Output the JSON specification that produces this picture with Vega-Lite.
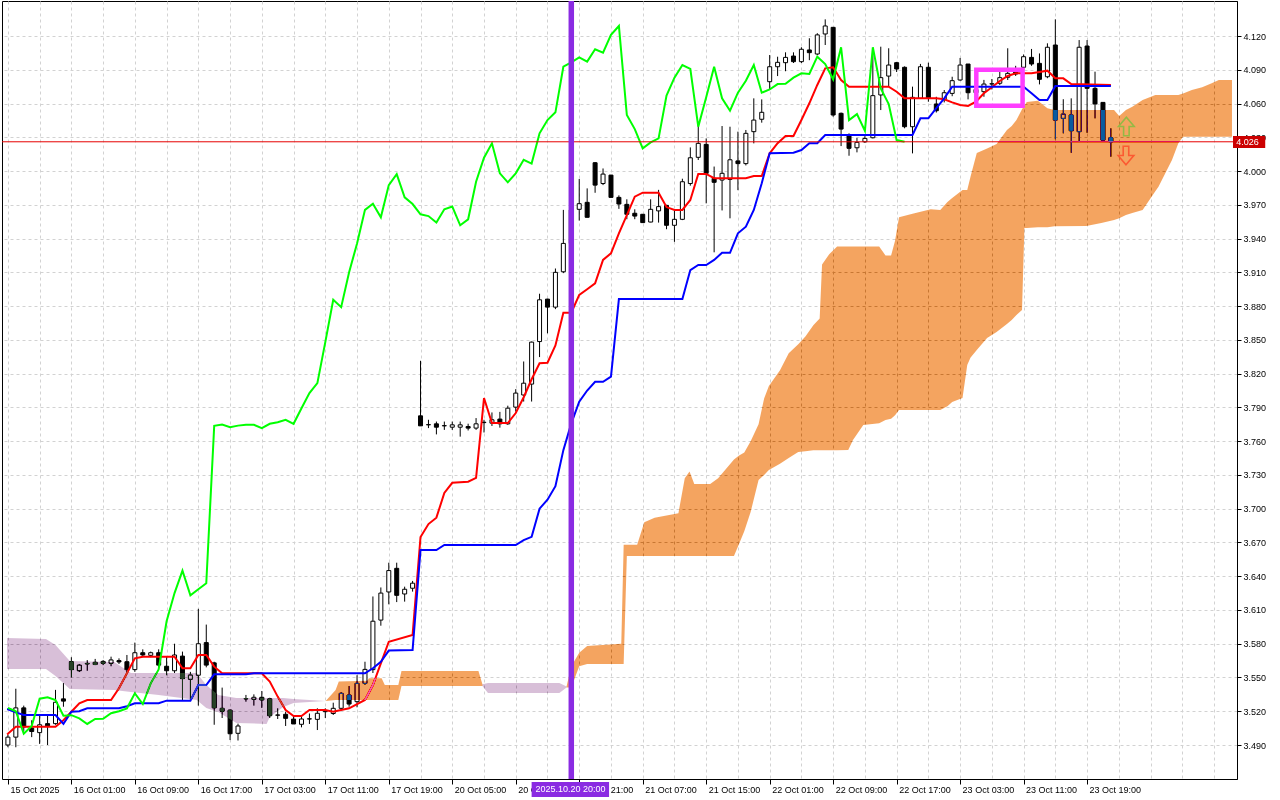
{
"$schema":"https://vega.github.io/schema/vega-lite/v6.json",
"width":1235,"height":778,
"autosize":{"type":"none"},
"padding":{"left":2,"top":1,"right":43,"bottom":21},
"background":"white",
"config":{"view":{"stroke":"black","strokeWidth":1},"axis":{"labelFont":"Liberation Sans","labelFontSize":9,"labelColor":"black","tickColor":"black","domainColor":"black","labelOverlap":false}},
"datasets":{
"candles":[
{"i":0,"o":3.490,"h":3.499,"l":3.488,"c":3.497},{"i":1,"o":3.497,"h":3.540,"l":3.488,"c":3.523},{"i":2,"o":3.523,"h":3.525,"l":3.502,"c":3.506},{"i":3,"o":3.505,"h":3.512,"l":3.497,"c":3.502},{"i":4,"o":3.501,"h":3.517,"l":3.491,"c":3.508},{"i":5,"o":3.509,"h":3.517,"l":3.490,"c":3.507},{"i":6,"o":3.509,"h":3.539,"l":3.508,"c":3.528},{"i":7,"o":3.531,"h":3.545,"l":3.524,"c":3.529},{"i":8,"o":3.564,"h":3.568,"l":3.550,"c":3.557},{"i":9,"o":3.556,"h":3.562,"l":3.555,"c":3.561},
{"i":10,"o":3.562,"h":3.5655,"l":3.556,"c":3.5625},{"i":11,"o":3.5635,"h":3.5665,"l":3.561,"c":3.5615},{"i":12,"o":3.5643,"h":3.5655,"l":3.561,"c":3.5626},{"i":13,"o":3.5626,"h":3.5685,"l":3.560,"c":3.5656},{"i":14,"o":3.565,"h":3.567,"l":3.562,"c":3.5638},{"i":15,"o":3.564,"h":3.570,"l":3.554,"c":3.557},{"i":16,"o":3.557,"h":3.581,"l":3.555,"c":3.572},{"i":17,"o":3.572,"h":3.575,"l":3.568,"c":3.570},{"i":18,"o":3.5697,"h":3.573,"l":3.568,"c":3.572},{"i":19,"o":3.572,"h":3.575,"l":3.559,"c":3.561},
{"i":20,"o":3.560,"h":3.5685,"l":3.552,"c":3.556},{"i":21,"o":3.556,"h":3.580,"l":3.554,"c":3.570},{"i":22,"o":3.569,"h":3.573,"l":3.530,"c":3.549},{"i":23,"o":3.5484,"h":3.555,"l":3.530,"c":3.5522},{"i":24,"o":3.552,"h":3.611,"l":3.525,"c":3.580},{"i":25,"o":3.581,"h":3.597,"l":3.559,"c":3.561},{"i":26,"o":3.563,"h":3.564,"l":3.508,"c":3.523},{"i":27,"o":3.5226,"h":3.541,"l":3.514,"c":3.520},{"i":28,"o":3.521,"h":3.5215,"l":3.4944,"c":3.500},{"i":29,"o":3.5004,"h":3.509,"l":3.494,"c":3.5069},
{"i":30,"o":3.531,"h":3.5345,"l":3.5285,"c":3.5312},{"i":31,"o":3.5306,"h":3.535,"l":3.525,"c":3.5324},{"i":32,"o":3.5324,"h":3.538,"l":3.523,"c":3.530},{"i":33,"o":3.531,"h":3.532,"l":3.514,"c":3.516},{"i":34,"o":3.5167,"h":3.5226,"l":3.5131,"c":3.5165},{"i":35,"o":3.5173,"h":3.5196,"l":3.5069,"c":3.5137},{"i":36,"o":3.513,"h":3.5157,"l":3.5087,"c":3.5087},{"i":37,"o":3.5084,"h":3.5152,"l":3.5057,"c":3.5131},{"i":38,"o":3.5131,"h":3.518,"l":3.5087,"c":3.5133},{"i":39,"o":3.5128,"h":3.5226,"l":3.5033,"c":3.5182},
{"i":40,"o":3.5196,"h":3.5226,"l":3.514,"c":3.520},{"i":41,"o":3.518,"h":3.5276,"l":3.5167,"c":3.5226},{"i":42,"o":3.5226,"h":3.537,"l":3.521,"c":3.5359},{"i":43,"o":3.5344,"h":3.5424,"l":3.524,"c":3.5264},{"i":44,"o":3.5285,"h":3.552,"l":3.5235,"c":3.5448},{"i":45,"o":3.5448,"h":3.564,"l":3.5435,"c":3.5572},{"i":46,"o":3.557,"h":3.622,"l":3.554,"c":3.600},{"i":47,"o":3.601,"h":3.630,"l":3.596,"c":3.625},{"i":48,"o":3.626,"h":3.652,"l":3.615,"c":3.645},{"i":49,"o":3.647,"h":3.652,"l":3.617,"c":3.623},
{"i":50,"o":3.6242,"h":3.6307,"l":3.6174,"c":3.6284},{"i":51,"o":3.6293,"h":3.6358,"l":3.6263,"c":3.6338},{"i":52,"o":3.7825,"h":3.8314,"l":3.7736,"c":3.7736},{"i":53,"o":3.7745,"h":3.779,"l":3.7716,"c":3.7747},{"i":54,"o":3.7754,"h":3.7774,"l":3.766,"c":3.7724},{"i":55,"o":3.7736,"h":3.7774,"l":3.770,"c":3.7738},{"i":56,"o":3.7724,"h":3.7774,"l":3.770,"c":3.7745},{"i":57,"o":3.7724,"h":3.7774,"l":3.764,"c":3.7745},{"i":58,"o":3.773,"h":3.7755,"l":3.7695,"c":3.7716},{"i":59,"o":3.7716,"h":3.7805,"l":3.770,"c":3.7754},
{"i":60,"o":3.7765,"h":3.779,"l":3.7677,"c":3.7768},{"i":61,"o":3.776,"h":3.7855,"l":3.7735,"c":3.779},{"i":62,"o":3.7796,"h":3.786,"l":3.772,"c":3.7754},{"i":63,"o":3.7754,"h":3.7915,"l":3.7745,"c":3.7893},{"i":64,"o":3.7902,"h":3.8062,"l":3.7863,"c":3.8027},{"i":65,"o":3.801,"h":3.8308,"l":3.7952,"c":3.8115},{"i":66,"o":3.8107,"h":3.8485,"l":3.7952,"c":3.848},{"i":67,"o":3.8485,"h":3.891,"l":3.8347,"c":3.8856},{"i":68,"o":3.8862,"h":3.8865,"l":3.8558,"c":3.8791},{"i":69,"o":3.8791,"h":3.9134,"l":3.8773,"c":3.910},
{"i":70,"o":3.9105,"h":3.9655,"l":3.9093,"c":3.9357},{"i":71,"o":3.9357,"h":3.975,"l":3.930,"c":3.9655},{"i":72,"o":3.966,"h":3.993,"l":3.956,"c":3.971},{"i":73,"o":3.9722,"h":3.9846,"l":3.9589,"c":3.9589},{"i":74,"o":4.0074,"h":4.008,"l":3.9807,"c":3.9875},{"i":75,"o":3.9889,"h":4.0023,"l":3.9875,"c":3.9973},{"i":76,"o":3.9964,"h":3.9966,"l":3.9766,"c":3.9766},{"i":77,"o":3.9766,"h":3.9784,"l":3.9664,"c":3.9707},{"i":78,"o":3.9704,"h":3.9749,"l":3.9572,"c":3.9616},{"i":79,"o":3.9625,"h":3.966,"l":3.9572,"c":3.960},
{"i":80,"o":3.9616,"h":3.9618,"l":3.954,"c":3.9542},{"i":81,"o":3.9547,"h":3.9749,"l":3.9545,"c":3.966},{"i":82,"o":3.9646,"h":3.9833,"l":3.9542,"c":3.9684},{"i":83,"o":3.9695,"h":3.970,"l":3.9483,"c":3.9518},{"i":84,"o":3.9518,"h":3.9646,"l":3.9371,"c":3.9571},{"i":85,"o":3.9571,"h":3.9932,"l":3.9564,"c":3.9905},{"i":86,"o":3.9889,"h":4.021,"l":3.987,"c":4.0118},{"i":87,"o":4.0122,"h":4.041,"l":4.0098,"c":4.0246},{"i":88,"o":4.0237,"h":4.029,"l":3.9713,"c":3.998},{"i":89,"o":3.9935,"h":4.004,"l":3.9278,"c":3.990},
{"i":90,"o":3.992,"h":4.040,"l":3.965,"c":3.998},{"i":91,"o":3.9926,"h":4.0394,"l":3.958,"c":4.010},{"i":92,"o":4.009,"h":4.035,"l":3.983,"c":4.0066},{"i":93,"o":4.0066,"h":4.0365,"l":4.005,"c":4.0335},{"i":94,"o":4.035,"h":4.0646,"l":4.0246,"c":4.0453},{"i":95,"o":4.046,"h":4.0637,"l":4.043,"c":4.0522},{"i":96,"o":4.0794,"h":4.1031,"l":4.072,"c":4.0927},{"i":97,"o":4.0927,"h":4.1016,"l":4.0844,"c":4.0966},{"i":98,"o":4.0963,"h":4.1055,"l":4.0887,"c":4.101},{"i":99,"o":4.1022,"h":4.1055,"l":4.096,"c":4.0972},
{"i":100,"o":4.0972,"h":4.110,"l":4.096,"c":4.1082},{"i":101,"o":4.1076,"h":4.118,"l":4.0985,"c":4.1052},{"i":102,"o":4.104,"h":4.1225,"l":4.103,"c":4.121},{"i":103,"o":4.1218,"h":4.1348,"l":4.112,"c":4.1289},{"i":104,"o":4.1277,"h":4.128,"l":4.0483,"c":4.0498},{"i":105,"o":4.0513,"h":4.052,"l":4.0222,"c":4.0373},{"i":106,"o":4.032,"h":4.0335,"l":4.0136,"c":4.0202},{"i":107,"o":4.0207,"h":4.0295,"l":4.0166,"c":4.0255},{"i":108,"o":4.026,"h":4.031,"l":4.025,"c":4.029},{"i":109,"o":4.0296,"h":4.1091,"l":4.029,"c":4.067},
{"i":110,"o":4.0676,"h":4.1105,"l":4.0542,"c":4.083},{"i":111,"o":4.0844,"h":4.1091,"l":4.075,"c":4.0942},{"i":112,"o":4.0963,"h":4.097,"l":4.088,"c":4.0907},{"i":113,"o":4.0922,"h":4.093,"l":4.038,"c":4.0394},{"i":114,"o":4.0394,"h":4.075,"l":4.0157,"c":4.0655},{"i":115,"o":4.0646,"h":4.0952,"l":4.064,"c":4.0927},{"i":116,"o":4.0922,"h":4.0963,"l":4.0616,"c":4.0646},{"i":117,"o":4.0596,"h":4.066,"l":4.052,"c":4.0536},{"i":118,"o":4.0637,"h":4.072,"l":4.061,"c":4.0696},{"i":119,"o":4.069,"h":4.0838,"l":4.0665,"c":4.0803},
{"i":120,"o":4.0809,"h":4.1005,"l":4.0803,"c":4.0942},{"i":121,"o":4.0951,"h":4.0951,"l":4.0637,"c":4.0696},{"i":122,"o":4.0696,"h":4.0775,"l":4.066,"c":4.0725},{"i":123,"o":4.0705,"h":4.081,"l":4.066,"c":4.0773},{"i":124,"o":4.0773,"h":4.0818,"l":4.0725,"c":4.0776},{"i":125,"o":4.078,"h":4.0885,"l":4.0765,"c":4.083},{"i":126,"o":4.0833,"h":4.1091,"l":4.0809,"c":4.0868},{"i":127,"o":4.0883,"h":4.0935,"l":4.0845,"c":4.0862},{"i":128,"o":4.0922,"h":4.1036,"l":4.0912,"c":4.1016},{"i":129,"o":4.101,"h":4.1085,"l":4.0935,"c":4.0951},
{"i":130,"o":4.0957,"h":4.1045,"l":4.077,"c":4.0815},{"i":131,"o":4.0838,"h":4.1135,"l":4.0825,"c":4.110},{"i":132,"o":4.112,"h":4.1348,"l":4.0282,"c":4.0453},{"i":133,"o":4.0468,"h":4.0638,"l":4.0335,"c":4.0506},{"i":134,"o":4.0498,"h":4.0646,"l":4.0162,"c":4.0358},{"i":135,"o":4.035,"h":4.1164,"l":4.026,"c":4.110},{"i":136,"o":4.1111,"h":4.1164,"l":4.034,"c":4.0735},{"i":137,"o":4.0735,"h":4.0883,"l":4.0468,"c":4.0596},{"i":138,"o":4.061,"h":4.061,"l":4.0275,"c":4.0275},{"i":139,"o":4.0296,"h":4.038,"l":4.0127,"c":4.026}
],
"tenkan":[
{"i":-0.11,"v":3.4995},{"i":0,"v":3.500},{"i":1,"v":3.5063},{"i":6,"v":3.5063},{"i":7,"v":3.512},{"i":8,"v":3.5196},{"i":9,"v":3.527},{"i":10,"v":3.530},{"i":13,"v":3.530},{"i":14,"v":3.5404},{"i":15,"v":3.5537},{"i":16,"v":3.567},{"i":17,"v":3.5685},{"i":21,"v":3.5685},{"i":22,"v":3.5582},{"i":23,"v":3.5582},{"i":24,"v":3.570},{"i":25,"v":3.570},{"i":26,"v":3.5596},{"i":27,"v":3.5537},{"i":32,"v":3.5537},{"i":33,"v":3.5463},{"i":34,"v":3.533},{"i":35,"v":3.5211},{"i":36,"v":3.5158},{"i":37,"v":3.5158},{"i":38,"v":3.5211},{"i":40,"v":3.5211},{"i":41,"v":3.5196},{"i":43,"v":3.5226},{"i":45,"v":3.530},{"i":46,"v":3.5433},{"i":47,"v":3.5626},{"i":48,"v":3.5818},{"i":51,"v":3.5878},{"i":52,"v":3.6748},{"i":53,"v":3.6863},{"i":54,"v":3.692},{"i":55,"v":3.714},{"i":56,"v":3.723},{"i":58,"v":3.724},{"i":59,"v":3.7273},{"i":60,"v":3.7983},{"i":61,"v":3.7761},{"i":63,"v":3.7761},{"i":64,"v":3.785},{"i":65,"v":3.799},{"i":66,"v":3.815},{"i":67,"v":3.8292},{"i":68,"v":3.8297},{"i":69,"v":3.845},{"i":70,"v":3.8741},{"i":71,"v":3.8741},{"i":72,"v":3.8899},{"i":73,"v":3.895},{"i":74,"v":3.9002},{"i":75,"v":3.921},{"i":76,"v":3.9269},{"i":77,"v":3.9447},{"i":78,"v":3.9609},{"i":79,"v":3.9772},{"i":80,"v":3.9808},{"i":82,"v":3.9808},{"i":83,"v":3.968},{"i":84,"v":3.9654},{"i":85,"v":3.9654},{"i":86,"v":3.9743},{"i":87,"v":3.9974},{"i":88,"v":3.9974},{"i":89,"v":3.9936},{"i":93,"v":3.9936},{"i":94,"v":3.9956},{"i":95,"v":3.9956},{"i":96,"v":4.0158},{"i":97,"v":4.0247},{"i":98,"v":4.0311},{"i":99,"v":4.0311},{"i":100,"v":4.0454},{"i":101,"v":4.0602},{"i":102,"v":4.0765},{"i":103,"v":4.0913},{"i":104,"v":4.0922},{"i":105,"v":4.0809},{"i":106,"v":4.075},{"i":111,"v":4.075},{"i":112,"v":4.0705},{"i":113,"v":4.0646},{"i":117,"v":4.0646},{"i":118,"v":4.0638},{"i":119,"v":4.061},{"i":120,"v":4.0587},{"i":121,"v":4.0578},{"i":122,"v":4.0616},{"i":123,"v":4.0691},{"i":124,"v":4.0744},{"i":125,"v":4.080},{"i":126,"v":4.0845},{"i":127,"v":4.0869},{"i":129,"v":4.0869},{"i":130,"v":4.088},{"i":131,"v":4.0892},{"i":132,"v":4.0824},{"i":133,"v":4.0824},{"i":134,"v":4.0773},{"i":139,"v":4.0765}
],
"kijun":[
{"i":-0.11,"v":3.5217},{"i":0,"v":3.5217},{"i":1,"v":3.519},{"i":2,"v":3.5167},{"i":6,"v":3.5167},{"i":7,"v":3.5087},{"i":8,"v":3.5196},{"i":9,"v":3.520},{"i":10,"v":3.5226},{"i":14,"v":3.5226},{"i":15,"v":3.5245},{"i":16,"v":3.5271},{"i":19,"v":3.5271},{"i":20,"v":3.5294},{"i":23,"v":3.5294},{"i":24,"v":3.5433},{"i":25,"v":3.5433},{"i":26,"v":3.5528},{"i":30,"v":3.5528},{"i":31,"v":3.5537},{"i":45,"v":3.5537},{"i":46,"v":3.5582},{"i":47,"v":3.564},{"i":48,"v":3.5739},{"i":51,"v":3.5744},{"i":52,"v":3.6633},{"i":54,"v":3.6633},{"i":55,"v":3.6677},{"i":64,"v":3.6677},{"i":65,"v":3.672},{"i":66,"v":3.675},{"i":67,"v":3.700},{"i":68,"v":3.708},{"i":69,"v":3.72},{"i":70,"v":3.752},{"i":71,"v":3.7758},{"i":72,"v":3.795},{"i":73,"v":3.805},{"i":74,"v":3.8128},{"i":75,"v":3.8128},{"i":76,"v":3.8173},{"i":77,"v":3.8863},{"i":85,"v":3.8863},{"i":86,"v":3.912},{"i":87,"v":3.9165},{"i":88,"v":3.9165},{"i":89,"v":3.921},{"i":90,"v":3.9274},{"i":91,"v":3.9274},{"i":92,"v":3.9447},{"i":93,"v":3.9506},{"i":94,"v":3.9654},{"i":95,"v":3.9891},{"i":96,"v":4.0158},{"i":99,"v":4.0163},{"i":100,"v":4.0187},{"i":101,"v":4.0247},{"i":102,"v":4.0247},{"i":103,"v":4.032},{"i":114,"v":4.032},{"i":115,"v":4.0469},{"i":116,"v":4.0469},{"i":117,"v":4.056},{"i":118,"v":4.0646},{"i":119,"v":4.075},{"i":128,"v":4.075},{"i":129,"v":4.0691},{"i":130,"v":4.0631},{"i":131,"v":4.0631},{"i":132,"v":4.0756},{"i":139,"v":4.0756}
],
"chikou":[
{"i":0,"v":3.523},{"i":1,"v":3.520},{"i":2,"v":3.500},{"i":3,"v":3.5069},{"i":4,"v":3.5312},{"i":5,"v":3.5324},{"i":6,"v":3.530},{"i":7,"v":3.516},{"i":8,"v":3.5165},{"i":9,"v":3.5137},{"i":10,"v":3.5087},{"i":11,"v":3.5131},{"i":12,"v":3.5133},{"i":13,"v":3.5182},{"i":14,"v":3.520},{"i":15,"v":3.5226},{"i":16,"v":3.5359},{"i":17,"v":3.5264},{"i":18,"v":3.5448},{"i":19,"v":3.5572},{"i":20,"v":3.600},{"i":21,"v":3.625},{"i":22,"v":3.645},{"i":23,"v":3.623},{"i":24,"v":3.6284},{"i":25,"v":3.6338},{"i":26,"v":3.7736},{"i":27,"v":3.7747},{"i":28,"v":3.7724},{"i":29,"v":3.7738},{"i":30,"v":3.7745},{"i":31,"v":3.7745},{"i":32,"v":3.7716},{"i":33,"v":3.7754},{"i":34,"v":3.7768},{"i":35,"v":3.779},{"i":36,"v":3.7754},{"i":37,"v":3.7893},{"i":38,"v":3.8027},{"i":39,"v":3.8115},{"i":40,"v":3.848},{"i":41,"v":3.8856},{"i":42,"v":3.8791},{"i":43,"v":3.910},{"i":44,"v":3.9357},{"i":45,"v":3.9655},{"i":46,"v":3.971},{"i":47,"v":3.9589},{"i":48,"v":3.9875},{"i":49,"v":3.9973},{"i":50,"v":3.9766},{"i":51,"v":3.9707},{"i":52,"v":3.9616},{"i":53,"v":3.960},{"i":54,"v":3.9542},{"i":55,"v":3.966},{"i":56,"v":3.9684},{"i":57,"v":3.9518},{"i":58,"v":3.9571},{"i":59,"v":3.9905},{"i":60,"v":4.0118},{"i":61,"v":4.0246},{"i":62,"v":3.998},{"i":63,"v":3.990},{"i":64,"v":3.998},{"i":65,"v":4.010},{"i":66,"v":4.0066},{"i":67,"v":4.0335},{"i":68,"v":4.0453},{"i":69,"v":4.0522},{"i":70,"v":4.0927},{"i":71,"v":4.0966},{"i":72,"v":4.101},{"i":73,"v":4.0972},{"i":74,"v":4.1082},{"i":75,"v":4.1052},{"i":76,"v":4.121},{"i":77,"v":4.1289},{"i":78,"v":4.0498},{"i":79,"v":4.0373},{"i":80,"v":4.0202},{"i":81,"v":4.0255},{"i":82,"v":4.029},{"i":83,"v":4.067},{"i":84,"v":4.083},{"i":85,"v":4.0942},{"i":86,"v":4.0907},{"i":87,"v":4.0394},{"i":88,"v":4.0655},{"i":89,"v":4.0927},{"i":90,"v":4.0646},{"i":91,"v":4.0536},{"i":92,"v":4.0696},{"i":93,"v":4.0803},{"i":94,"v":4.0942},{"i":95,"v":4.0696},{"i":96,"v":4.0725},{"i":97,"v":4.0773},{"i":98,"v":4.0776},{"i":99,"v":4.083},{"i":100,"v":4.0868},{"i":101,"v":4.0862},{"i":102,"v":4.1016},{"i":103,"v":4.0951},{"i":104,"v":4.0815},{"i":105,"v":4.110},{"i":106,"v":4.0453},{"i":107,"v":4.0506},{"i":108,"v":4.0358},{"i":109,"v":4.110},{"i":110,"v":4.0735},{"i":111,"v":4.0596},{"i":112,"v":4.0275},{"i":113,"v":4.026}
],
"cloud":[
{"seg":"P1","k":"B","i":-0.11,"t":3.5851,"b":3.5575},{"seg":"P1","k":"B","i":4.8,"t":3.5842,"b":3.5575},{"seg":"P1","k":"B","i":6,"t":3.5789,"b":3.5513},{"seg":"P1","k":"B","i":7.8,"t":3.5646,"b":3.5397},{"seg":"P1","k":"B","i":13.4,"t":3.5637,"b":3.5389},{"seg":"P1","k":"B","i":15.5,"t":3.554,"b":3.5371},{"seg":"P1","k":"B","i":19,"t":3.554,"b":3.5345},{"seg":"P1","k":"B","i":23.8,"t":3.554,"b":3.530},{"seg":"P1","k":"B","i":25,"t":3.5433,"b":3.5229},{"seg":"P1","k":"B","i":26.5,"t":3.5345,"b":3.5193},{"seg":"P1","k":"B","i":28.8,"t":3.5318,"b":3.5096},{"seg":"P1","k":"B","i":32.6,"t":3.5318,"b":3.5087},{"seg":"P1","k":"B","i":33,"t":3.5318,"b":3.5149},{"seg":"P1","k":"B","i":34.7,"t":3.5318,"b":3.5238},{"seg":"P1","k":"B","i":36,"t":3.5309,"b":3.5273},{"seg":"P1","k":"B","i":40.05,"t":3.529,"b":3.529},
{"seg":"O1","k":"A","i":40.05,"t":3.529,"b":3.529},{"seg":"O1","k":"A","i":41.3,"t":3.5389,"b":3.530},{"seg":"O1","k":"A","i":41.7,"t":3.5465,"b":3.530},{"seg":"O1","k":"A","i":45.3,"t":3.547,"b":3.530},{"seg":"O1","k":"A","i":45.5,"t":3.5494,"b":3.530},{"seg":"O1","k":"A","i":47.1,"t":3.5494,"b":3.530},{"seg":"O1","k":"A","i":47.5,"t":3.5433,"b":3.530},{"seg":"O1","k":"A","i":49.2,"t":3.5433,"b":3.530},{"seg":"O1","k":"A","i":49.6,"t":3.5558,"b":3.5424},{"seg":"O1","k":"A","i":59.3,"t":3.5558,"b":3.5424},{"seg":"O1","k":"A","i":59.8,"t":3.544,"b":3.5424},
{"seg":"P2","k":"B","i":59.8,"t":3.544,"b":3.5424},{"seg":"P2","k":"B","i":60.5,"t":3.5451,"b":3.5362},{"seg":"P2","k":"B","i":69.5,"t":3.5451,"b":3.5362},{"seg":"P2","k":"B","i":70.4,"t":3.542,"b":3.541},
{"seg":"O2","k":"A","i":70.4,"t":3.542,"b":3.541},{"seg":"O2","k":"A","i":71,"t":3.560,"b":3.541},{"seg":"O2","k":"A","i":72,"t":3.572,"b":3.560},{"seg":"O2","k":"A","i":73,"t":3.578,"b":3.562},{"seg":"O2","k":"A","i":77.3,"t":3.580,"b":3.562},{"seg":"O2","k":"A","i":77.6,"t":3.668,"b":3.562},{"seg":"O2","k":"A","i":78,"t":3.668,"b":3.658},{"seg":"O2","k":"A","i":79.3,"t":3.668,"b":3.658},{"seg":"O2","k":"A","i":80.2,"t":3.688,"b":3.658},{"seg":"O2","k":"A","i":81.5,"t":3.692,"b":3.658},{"seg":"O2","k":"A","i":84.5,"t":3.696,"b":3.658},{"seg":"O2","k":"A","i":85.3,"t":3.727,"b":3.658},{"seg":"O2","k":"A","i":85.9,"t":3.733,"b":3.658},{"seg":"O2","k":"A","i":86.5,"t":3.722,"b":3.658},{"seg":"O2","k":"A","i":88.5,"t":3.722,"b":3.658},{"seg":"O2","k":"A","i":89.5,"t":3.727,"b":3.658},{"seg":"O2","k":"A","i":91.5,"t":3.7437,"b":3.658},{"seg":"O2","k":"A","i":92.1,"t":3.747,"b":3.668},{"seg":"O2","k":"A","i":92.8,"t":3.750,"b":3.680},{"seg":"O2","k":"A","i":93.6,"t":3.760,"b":3.697},{"seg":"O2","k":"A","i":94.6,"t":3.775,"b":3.7255},{"seg":"O2","k":"A","i":95.3,"t":3.798,"b":3.730},{"seg":"O2","k":"A","i":95.9,"t":3.809,"b":3.7344},{"seg":"O2","k":"A","i":97.3,"t":3.823,"b":3.740},{"seg":"O2","k":"A","i":98.4,"t":3.838,"b":3.745},{"seg":"O2","k":"A","i":99.6,"t":3.846,"b":3.7504},{"seg":"O2","k":"A","i":100.5,"t":3.853,"b":3.751},{"seg":"O2","k":"A","i":101.5,"t":3.863,"b":3.752},{"seg":"O2","k":"A","i":102.3,"t":3.869,"b":3.752},{"seg":"O2","k":"A","i":102.6,"t":3.917,"b":3.752},{"seg":"O2","k":"A","i":103.5,"t":3.926,"b":3.752},{"seg":"O2","k":"A","i":104.5,"t":3.933,"b":3.752},{"seg":"O2","k":"A","i":105.9,"t":3.933,"b":3.7521},{"seg":"O2","k":"A","i":106.5,"t":3.933,"b":3.761},{"seg":"O2","k":"A","i":107.8,"t":3.933,"b":3.7743},{"seg":"O2","k":"A","i":109.8,"t":3.933,"b":3.776},{"seg":"O2","k":"A","i":110.6,"t":3.925,"b":3.7788},{"seg":"O2","k":"A","i":111.3,"t":3.925,"b":3.780},{"seg":"O2","k":"A","i":111.8,"t":3.938,"b":3.783},{"seg":"O2","k":"A","i":112.3,"t":3.959,"b":3.7877},{"seg":"O2","k":"A","i":114,"t":3.962,"b":3.7877},{"seg":"O2","k":"A","i":116.3,"t":3.966,"b":3.7877},{"seg":"O2","k":"A","i":117.5,"t":3.9654,"b":3.7877},{"seg":"O2","k":"A","i":118.4,"t":3.9725,"b":3.791},{"seg":"O2","k":"A","i":119,"t":3.976,"b":3.7948},{"seg":"O2","k":"A","i":120.3,"t":3.9832,"b":3.7983},{"seg":"O2","k":"A","i":120.9,"t":3.9832,"b":3.8277},{"seg":"O2","k":"A","i":121.3,"t":3.9947,"b":3.834},{"seg":"O2","k":"A","i":122.1,"t":4.016,"b":3.841},{"seg":"O2","k":"A","i":123.4,"t":4.020,"b":3.8517},{"seg":"O2","k":"A","i":124.6,"t":4.024,"b":3.857},{"seg":"O2","k":"A","i":125.9,"t":4.0365,"b":3.864},{"seg":"O2","k":"A","i":126.5,"t":4.040,"b":3.8676},{"seg":"O2","k":"A","i":127.1,"t":4.0454,"b":3.872},{"seg":"O2","k":"A","i":127.8,"t":4.055,"b":3.8765},{"seg":"O2","k":"A","i":128.1,"t":4.058,"b":3.9494},{"seg":"O2","k":"A","i":128.4,"t":4.0614,"b":3.9494},{"seg":"O2","k":"A","i":129.8,"t":4.0625,"b":3.950},{"seg":"O2","k":"A","i":131,"t":4.0558,"b":3.950},{"seg":"O2","k":"A","i":131.9,"t":4.0542,"b":3.951},{"seg":"O2","k":"A","i":135.9,"t":4.0542,"b":3.9512},{"seg":"O2","k":"A","i":137.8,"t":4.0542,"b":3.9538},{"seg":"O2","k":"A","i":139.4,"t":4.0542,"b":3.9565},{"seg":"O2","k":"A","i":140.05,"t":4.0489,"b":3.958},{"seg":"O2","k":"A","i":140.9,"t":4.0542,"b":3.961},{"seg":"O2","k":"A","i":141.7,"t":4.0572,"b":3.9627},{"seg":"O2","k":"A","i":143,"t":4.0631,"b":3.9654},{"seg":"O2","k":"A","i":144.6,"t":4.0676,"b":3.982},{"seg":"O2","k":"A","i":145,"t":4.0676,"b":3.9861},{"seg":"O2","k":"A","i":146.7,"t":4.0676,"b":4.0098},{"seg":"O2","k":"A","i":147.5,"t":4.0676,"b":4.0247},{"seg":"O2","k":"A","i":148.1,"t":4.069,"b":4.0305},{"seg":"O2","k":"A","i":149.2,"t":4.072,"b":4.0305},{"seg":"O2","k":"A","i":150.5,"t":4.0744,"b":4.0305},{"seg":"O2","k":"A","i":151.7,"t":4.078,"b":4.0305},{"seg":"O2","k":"A","i":152.6,"t":4.0809,"b":4.0305},{"seg":"O2","k":"A","i":154.26,"t":4.0809,"b":4.0305}
]
},
"layer":[
{"data":{"name":"candles"},
 "mark":{"type":"rule","color":"black","strokeWidth":1},
 "encoding":{
  "x":{"field":"i","type":"quantitative","scale":{"domain":[-0.1125,154.2625],"nice":false,"zero":false},
   "axis":{"orient":"bottom","title":null,"tickCount":200,"values":[0,4,8,12,16,20,24,28,32,36,40,44,48,52,56,60,64,68,72,76,80,84,88,92,96,100,104,108,112,116,120,124,128,132,136,140,144,148,152],
    "labelExpr":"(datum.value % 8 == 0 && datum.value <= 136) ? ['15 Oct 2025','16 Oct 01:00','16 Oct 09:00','16 Oct 17:00','17 Oct 03:00','17 Oct 11:00','17 Oct 19:00','20 Oct 05:00','20 Oct 13:00','20 Oct 21:00','21 Oct 07:00','21 Oct 15:00','22 Oct 01:00','22 Oct 09:00','22 Oct 17:00','23 Oct 03:00','23 Oct 11:00','23 Oct 19:00'][datum.value / 8] : ''",
    "grid":true,"gridColor":"#D2D2D2","gridDash":[3,3],"gridWidth":1,"domain":false,"tickSize":5,
    "tickOpacity":{"condition":{"test":"datum.value % 8 == 0 && datum.value <= 136","value":1},"value":0},
    "labelAlign":"left","labelBaseline":"top","labelPadding":1,"labelOffset":2,"labelOverlap":false,"labelBound":false,"labelFlush":false}},
  "y":{"field":"h","type":"quantitative","scale":{"domain":[3.4598,4.1511],"nice":false,"zero":false},
   "axis":{"orient":"right","title":null,"tickCount":200,"values":[3.49,3.52,3.55,3.58,3.61,3.64,3.67,3.70,3.73,3.76,3.79,3.82,3.85,3.88,3.91,3.94,3.97,4.00,4.03,4.06,4.09,4.12],"format":".3f",
    "grid":true,"gridColor":"#D2D2D2","gridDash":[3,3],"gridWidth":1,"tickSize":4,"labelPadding":2,"domain":true,"labelOverlap":false,"labelBound":false,"labelFlush":false}},
  "y2":{"field":"l"}}},
{"data":{"name":"candles"},
 "mark":{"type":"bar","size":4,"stroke":"black","strokeWidth":1},
 "encoding":{
  "x":{"field":"i","type":"quantitative","title":null,"scale":{"domain":[-0.1125,154.2625],"nice":false,"zero":false}},
  "y":{"field":"o","type":"quantitative","title":null,"scale":{"domain":[3.4598,4.1511],"nice":false,"zero":false}},
  "y2":{"field":"c"},
  "fill":{"condition":{"test":"datum.c >= datum.o","value":"white"},"value":"black"}}},
{"data":{"name":"tenkan"},
 "mark":{"type":"line","color":"#FF0000","strokeWidth":2},
 "encoding":{
  "x":{"field":"i","type":"quantitative","title":null,"scale":{"domain":[-0.1125,154.2625],"nice":false,"zero":false}},
  "y":{"field":"v","type":"quantitative","title":null,"scale":{"domain":[3.4598,4.1511],"nice":false,"zero":false}}}},
{"data":{"name":"kijun"},
 "mark":{"type":"line","color":"#0000FF","strokeWidth":2},
 "encoding":{
  "x":{"field":"i","type":"quantitative","title":null,"scale":{"domain":[-0.1125,154.2625],"nice":false,"zero":false}},
  "y":{"field":"v","type":"quantitative","title":null,"scale":{"domain":[3.4598,4.1511],"nice":false,"zero":false}}}},
{"data":{"name":"chikou"},
 "mark":{"type":"line","color":"#00FF00","strokeWidth":2},
 "encoding":{
  "x":{"field":"i","type":"quantitative","title":null,"scale":{"domain":[-0.1125,154.2625],"nice":false,"zero":false}},
  "y":{"field":"v","type":"quantitative","title":null,"scale":{"domain":[3.4598,4.1511],"nice":false,"zero":false}}}},
{"data":{"values":[{"p":4.026}]},
 "mark":{"type":"rule","color":"#E60000","strokeWidth":1},
 "encoding":{
  "y":{"field":"p","type":"quantitative","title":null,"scale":{"domain":[3.4598,4.1511],"nice":false,"zero":false}}}},
{"data":{"name":"cloud"},
 "mark":{"type":"area","blend":"difference","interpolate":"linear"},
 "encoding":{
  "x":{"field":"i","type":"quantitative","title":null,"scale":{"domain":[-0.1125,154.2625],"nice":false,"zero":false}},
  "y":{"field":"t","type":"quantitative","title":null,"scale":{"domain":[3.4598,4.1511],"nice":false,"zero":false}},
  "y2":{"field":"b"},
  "color":{"field":"k","type":"nominal","scale":{"domain":["A","B"],"range":["#0B5B9F","#274027"]},"legend":null},
  "detail":{"field":"seg"}}},
{"data":{"values":[{"t":71}]},
 "mark":{"type":"rule","color":"#8A2BE2","strokeWidth":5.5},
 "encoding":{
  "x":{"field":"t","type":"quantitative","title":null,"scale":{"domain":[-0.1125,154.2625],"nice":false,"zero":false}}}},
{"data":{"values":[{}]},
 "mark":{"type":"rect","fill":"transparent","stroke":"#FF3DFF","strokeWidth":4.5},
 "encoding":{
  "x":{"datum":122.04,"type":"quantitative","scale":{"domain":[-0.1125,154.2625],"nice":false,"zero":false}},
  "x2":{"datum":127.87},
  "y":{"datum":4.090,"type":"quantitative","scale":{"domain":[3.4598,4.1511],"nice":false,"zero":false}},
  "y2":{"datum":4.058}}},
{"data":{"values":[{}]},
 "mark":{"type":"point","filled":false,"size":340,"stroke":"#6CC23A","strokeWidth":1.6,"shape":"M-0.3,1 L-0.3,0 L-0.85,0 L0,-1 L0.85,0 L0.3,0 L0.3,1 Z"},
 "encoding":{
  "x":{"datum":140.95,"type":"quantitative","scale":{"domain":[-0.1125,154.2625],"nice":false,"zero":false}},
  "y":{"datum":4.0396,"type":"quantitative","scale":{"domain":[3.4598,4.1511],"nice":false,"zero":false}}}},
{"data":{"values":[{}]},
 "mark":{"type":"point","filled":false,"size":340,"stroke":"#FF3B1F","strokeWidth":1.6,"shape":"M-0.3,-1 L-0.3,0 L-0.85,0 L0,1 L0.85,0 L0.3,0 L0.3,-1 Z"},
 "encoding":{
  "x":{"datum":140.9,"type":"quantitative","scale":{"domain":[-0.1125,154.2625],"nice":false,"zero":false}},
  "y":{"datum":4.0138,"type":"quantitative","scale":{"domain":[3.4598,4.1511],"nice":false,"zero":false}}}},
{"data":{"values":[{}]},
 "mark":{"type":"rect","fill":"#CC0000"},
 "encoding":{
  "x":{"datum":154.39,"type":"quantitative","scale":{"domain":[-0.1125,154.2625],"nice":false,"zero":false}},
  "x2":{"datum":158.45},
  "y":{"datum":4.0311,"type":"quantitative","scale":{"domain":[3.4598,4.1511],"nice":false,"zero":false}},
  "y2":{"datum":4.0205}}},
{"data":{"values":[{}]},
 "mark":{"type":"text","text":"4.026","color":"white","font":"Liberation Sans","fontSize":9,"align":"left","baseline":"middle"},
 "encoding":{
  "x":{"datum":154.8,"type":"quantitative","scale":{"domain":[-0.1125,154.2625],"nice":false,"zero":false}},
  "y":{"datum":4.0258,"type":"quantitative","scale":{"domain":[3.4598,4.1511],"nice":false,"zero":false}}}},
{"data":{"values":[{}]},
 "mark":{"type":"rect","fill":"#8A2BE2"},
 "encoding":{
  "x":{"datum":66.0,"type":"quantitative","scale":{"domain":[-0.1125,154.2625],"nice":false,"zero":false}},
  "x2":{"datum":75.76},
  "y":{"datum":3.4571,"type":"quantitative","scale":{"domain":[3.4598,4.1511],"nice":false,"zero":false}},
  "y2":{"datum":3.4438}}},
{"data":{"values":[{}]},
 "mark":{"type":"text","text":"2025.10.20 20:00","color":"white","font":"Liberation Sans","fontSize":9,"align":"center","baseline":"middle"},
 "encoding":{
  "x":{"datum":70.9,"type":"quantitative","scale":{"domain":[-0.1125,154.2625],"nice":false,"zero":false}},
  "y":{"datum":3.4505,"type":"quantitative","scale":{"domain":[3.4598,4.1511],"nice":false,"zero":false}}}}
]
}
